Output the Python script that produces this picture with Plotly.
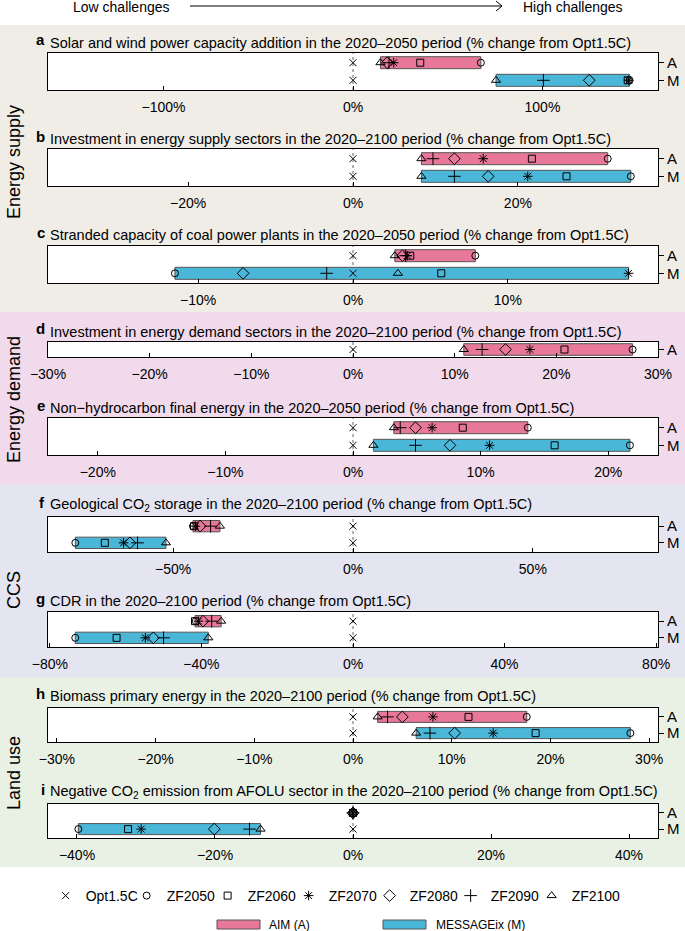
import plotly.graph_objects as go

W, H = 685, 931

scenarios = ["Opt1.5C", "ZF2050", "ZF2060", "ZF2070", "ZF2080", "ZF2090", "ZF2100"]
symbols = ["x-thin-open", "circle-open", "square-open", "asterisk-open",
           "diamond-open", "cross-thin-open", "triangle-up-open"]
sizes = [7, 7, 7, 8, 9, 9, 8]

panel_letters = ["a", "b", "c", "d", "e", "f", "g", "h", "i"]
panel_titles = [
    "Solar and wind power capacity addition in the 2020\u20132050 period (% change from Opt1.5C)",
    "Investment in energy supply sectors in the 2020\u20132100 period (% change from Opt1.5C)",
    "Stranded capacity of coal power plants in the 2020\u20132050 period (% change from Opt1.5C)",
    "Investment in energy demand sectors in the 2020\u20132100 period (% change from Opt1.5C)",
    "Non\u2212hydrocarbon final energy in the 2020\u20132050 period (% change from Opt1.5C)",
    "Geological CO<sub>2</sub> storage in the 2020\u20132100 period (% change from Opt1.5C)",
    "CDR in the 2020\u20132100 period (% change from Opt1.5C)",
    "Biomass primary energy in the 2020\u20132100 period (% change from Opt1.5C)",
    "Negative CO<sub>2</sub> emission from AFOLU sector in the 2020\u20132100 period (% change from Opt1.5C)",
]

# % change from Opt1.5C, order follows `scenarios`
aim_a = [0, 67.5, 35.5, 21.5, 18.0, 19.0, 14.5]
msg_a = [0, 146.0, 145.0, 145.5, 124.7, 100.5, 75.5]
aim_b = [0, 30.9, 21.7, 15.8, 12.3, 9.7, 8.3]
msg_b = [0, 33.7, 25.9, 21.2, 16.4, 12.3, 8.3]
aim_c = [0, 7.9, 3.7, 3.5, 3.2, 3.4, 2.7]
msg_c = [0, -11.5, 5.7, 17.8, -7.1, -1.7, 2.9]
aim_d = [0, 27.5, 20.8, 17.4, 15.0, 12.7, 10.9]
msg_d = None
aim_e = [0, 13.7, 8.6, 6.2, 4.9, 3.7, 3.2]
msg_e = [0, 21.7, 15.8, 10.7, 7.6, 4.9, 1.6]
aim_f = [0, -44.5, -44.2, -43.8, -42.5, -39.6, -37.0]
msg_f = [0, -77.2, -69.0, -63.8, -62.0, -59.9, -52.0]
aim_g = [0, -41.5, -41.7, -40.8, -39.6, -37.3, -34.8]
msg_g = [0, -73.3, -62.4, -54.8, -52.7, -50.0, -38.2]
aim_h = [0, 17.6, 11.7, 8.1, 5.0, 3.5, 2.5]
msg_h = [0, 28.1, 18.5, 14.2, 10.3, 7.8, 6.4]
aim_i = [0, 0, 0, 0, 0, 0, 0]
msg_i = [0, -39.8, -32.6, -30.7, -20.1, -15.0, -13.4]

aim_vals = [aim_a, aim_b, aim_c, aim_d, aim_e, aim_f, aim_g, aim_h, aim_i]
msg_vals = [msg_a, msg_b, msg_c, msg_d, msg_e, msg_f, msg_g, msg_h, msg_i]

x_limits = [161, 37, 19.7, 30, 23.9, 84.8, 80.5, 30.9, 44.2]
x_ticks = [
    [-100, 0, 100], [-20, 0, 20], [-10, 0, 10], [-30, -20, -10, 0, 10, 20, 30],
    [-20, -10, 0, 10, 20], [-50, 0, 50], [-80, -40, 0, 40, 80],
    [-30, -20, -10, 0, 10, 20, 30], [-40, -20, 0, 20, 40],
]

sections = ["Energy supply", "Energy demand", "CCS", "Land use"]
section_colors = ["#F0EDE6", "#F0DAEC", "#E5E4F1", "#E9F1E5"]
section_px = [(25, 312), (312, 484), (484, 677), (677, 867)]
section_label_y = [162, 400, 590, 773]

models = ["AIM (A)", "MESSAGEix (M)"]
model_colors = ["#E7789A", "#4AB7D8"]

# pixel layout (top, bottom of plot box, title centre)
box_px = [(53, 90), (149, 186), (246, 283), (342, 357), (418, 455),
          (517, 552), (612, 647), (708, 742), (804, 838)]
title_px = [43, 139, 235, 332, 408, 505, 601, 696, 792]
X0, X1 = 48, 658

FONT = "Liberation Sans"


def py(p):
    return 1 - p / H


def px(p):
    return p / W


def fmt(v):
    return ("\u2212" if v < 0 else "") + f"{abs(v)}%"


fig = go.Figure()
shapes = []
annotations = []

# section bands
for (t, b), col in zip(section_px, section_colors):
    shapes.append(dict(type="rect", xref="paper", yref="paper", x0=0, x1=1,
                       y0=py(b), y1=py(t), fillcolor=col, line_width=0, layer="below"))

for k in range(9):
    n = "" if k == 0 else str(k + 1)
    xa, ya = "x" + n, "y" + n
    top, bot = box_px[k]
    lim = x_limits[k]
    two_rows = msg_vals[k] is not None
    rows = [(aim_vals[k], 1, model_colors[0])]
    if two_rows:
        rows.append((msg_vals[k], 0, model_colors[1]))

    # white plot box and the dotted Opt1.5C reference line
    shapes.append(dict(type="rect", xref=xa + " domain", yref=ya + " domain",
                       x0=0, x1=1, y0=0, y1=1, fillcolor="white", line_width=0, layer="below"))
    shapes.append(dict(type="line", xref=xa, yref=ya + " domain", x0=0, x1=0, y0=0, y1=1,
                       line=dict(color="#666", width=1, dash="dot"), layer="below"))

    for vals, yy, col in rows:
        zf = vals[1:]
        fig.add_trace(go.Bar(
            x=[max(zf) - min(zf)], base=[min(zf)], y=[yy], orientation="h", width=0.68,
            marker=dict(color=col, line=dict(color="#555", width=1)),
            xaxis=xa, yaxis=ya, showlegend=False, hoverinfo="skip"))

    for s in range(len(scenarios)):
        fig.add_trace(go.Scatter(
            x=[r[0][s] for r in rows], y=[r[1] for r in rows], mode="markers",
            name=scenarios[s], legendgroup=scenarios[s], showlegend=(k == 0),
            marker=dict(symbol=symbols[s], size=sizes[s], color="black",
                        line=dict(color="black", width=1)),
            xaxis=xa, yaxis=ya))

    ticks = x_ticks[k]
    fig.layout["xaxis" + n] = dict(
        domain=[px(X0), px(X1)], anchor=ya, range=[-lim, lim],
        tickvals=ticks, ticktext=[fmt(v) for v in ticks],
        ticks="inside", ticklen=4, tickcolor="black", ticklabelstandoff=4,
        showline=True, mirror=True, linecolor="black", linewidth=1,
        showgrid=False, zeroline=False, tickfont=dict(size=14, color="black"))
    fig.layout["yaxis" + n] = dict(
        domain=[py(bot), py(top)], anchor=xa, side="right",
        range=[-0.55, 1.55] if two_rows else [0.56, 1.44],
        tickvals=[1, 0] if two_rows else [1], ticktext=["A", "M"] if two_rows else ["A"],
        ticks="outside", ticklen=5, tickcolor="black",
        showline=True, mirror=True, linecolor="black", linewidth=1,
        showgrid=False, zeroline=False, tickfont=dict(size=15, color="black"))

    annotations.append(dict(text="<b>" + panel_letters[k] + "</b>", xref="paper", yref="paper",
                            x=px(X0 - 1), y=py(title_px[k] - 3), xanchor="right", yanchor="middle",
                            showarrow=False, font=dict(size=15, color="black")))
    annotations.append(dict(text=panel_titles[k], xref="paper", yref="paper",
                            x=px(X0), y=py(title_px[k]), xanchor="left", yanchor="middle",
                            showarrow=False, font=dict(size=14.5, color="black")))

# empty spacer entry so the last legend label is not clipped
fig.add_trace(go.Scatter(x=[0], y=[1], mode="markers", name="\u00a0", showlegend=True,
                         marker=dict(size=0, color="rgba(0,0,0,0)",
                                     line=dict(width=0, color="rgba(0,0,0,0)")),
                         hoverinfo="skip"))

for name, yc in zip(sections, section_label_y):
    annotations.append(dict(text=name, xref="paper", yref="paper", x=px(14), y=py(yc),
                            textangle=-90, xanchor="center", yanchor="middle", showarrow=False,
                            font=dict(size=18, color="black")))

# header arrow
annotations.append(dict(text="Low challenges", xref="paper", yref="paper", x=px(121), y=py(7),
                        xanchor="center", yanchor="middle", showarrow=False, font=dict(size=14)))
annotations.append(dict(text="High challenges", xref="paper", yref="paper", x=px(573), y=py(7),
                        xanchor="center", yanchor="middle", showarrow=False, font=dict(size=14)))
shapes.append(dict(type="line", xref="paper", yref="paper", x0=px(190), x1=px(502),
                   y0=py(6), y1=py(6), line=dict(color="black", width=1)))
shapes.append(dict(type="path", xref="paper", yref="paper",
                   path=f"M {px(496)} {py(1)} L {px(502)} {py(6)} L {px(496)} {py(11)}",
                   line=dict(color="black", width=1)))

# model legend (bars)
for (x0, x1, tx), name, col in zip([(217, 260, 267), (383, 426, 434)], models, model_colors):
    shapes.append(dict(type="rect", xref="paper", yref="paper", x0=px(x0), x1=px(x1),
                       y0=py(929), y1=py(920), fillcolor=col, line=dict(color="#555", width=1)))
    annotations.append(dict(text=name, xref="paper", yref="paper", x=px(tx), y=py(924.5),
                            xanchor="left", yanchor="middle", showarrow=False, font=dict(size=12)))

fig.update_layout(
    width=W, height=H, margin=dict(l=0, r=0, t=0, b=0, autoexpand=False),
    paper_bgcolor="white", plot_bgcolor="white",
    font=dict(family=FONT, color="black", size=14),
    barmode="overlay", shapes=shapes, annotations=annotations,
    showlegend=True,
    legend=dict(orientation="h", x=0.5396, xanchor="center", y=py(896), yanchor="middle",
                font=dict(size=14), itemwidth=30, bgcolor="rgba(0,0,0,0)",
                tracegroupgap=0, entrywidth=36, itemclick=False),
)

# the page body has a default 8px margin; drop it so the figure fills the window
fig.write_html("out.html", config={"displayModeBar": False},
               post_script="document.body.style.margin='0px';")
